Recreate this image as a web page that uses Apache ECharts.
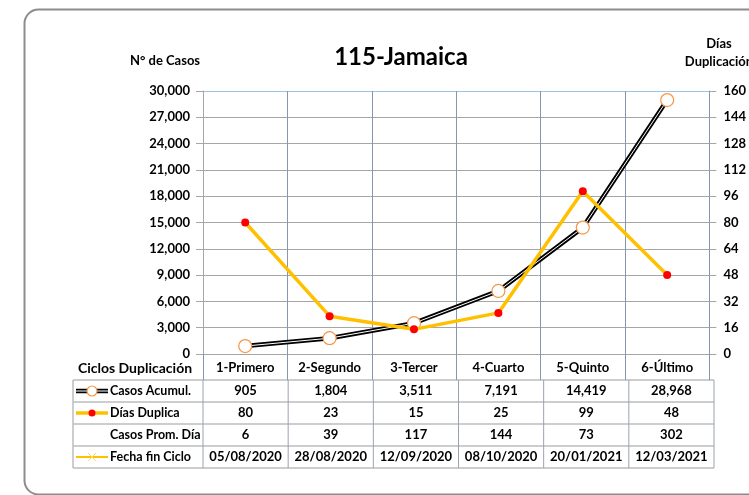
<!DOCTYPE html>
<html>
<head>
<meta charset="utf-8">
<script src="https://cdn.jsdelivr.net/npm/echarts@6/dist/echarts.min.js"></script>
<style>
  html, body { margin: 0; padding: 0; background: #fff; }
  #chart { width: 749px; height: 495px; }
</style>
</head>
<body>
<div id="chart"></div>
<script>
// datos
const ciclos = ['1-Primero', '2-Segundo', '3-Tercer', '4-Cuarto', '5-Quinto', '6-Último'];
const casosAcumul = [905, 1804, 3511, 7191, 14419, 28968];
const diasDuplica = [80, 23, 15, 25, 99, 48];
const casosPromDia = [6, 39, 117, 144, 73, 302];
const fechaFinCiclo = ['05/08/2020', '28/08/2020', '12/09/2020', '08/10/2020', '20/01/2021', '12/03/2021'];
const rowNames = ['Casos Acumul.', 'Días Duplica', 'Casos Prom. Día', 'Fecha fin Ciclo'];

const FONT = 'Lato, "Liberation Sans", sans-serif';
const chart = echarts.init(document.getElementById('chart'), null, { renderer: 'canvas' });

// geometria de la tabla
const gridL = 203, gridR = 714, tblL = 73;
const colW = (gridR - gridL) / ciclos.length;
const rowY = [380, 402, 424, 446, 468];

const fmt = v => (typeof v === 'number' ? v.toLocaleString('en-US') : v);
const rows = [casosAcumul, diasDuplica, casosPromDia, fechaFinCiclo];

const g = [];
// marco redondeado
g.push({ type: 'rect', left: 22, top: 7, shape: { width: 760, height: 485, r: 14 },
  style: { fill: 'none', stroke: '#8C8C8C', lineWidth: 2 }, z: -10 });
// titulo y nombres de ejes
g.push({ type: 'text', x: 401, y: 57, style: { text: '115-Jamaica', font: 'bold 24px ' + FONT, fill: '#000', align: 'center', verticalAlign: 'middle' } });
g.push({ type: 'text', x: 165, y: 61, style: { text: 'N° de Casos', font: 'bold 13px ' + FONT, fill: '#000', align: 'center', verticalAlign: 'middle' } });
g.push({ type: 'text', x: 719, y: 44, style: { text: 'Días', font: 'bold 13px ' + FONT, fill: '#000', align: 'center', verticalAlign: 'middle' } });
g.push({ type: 'text', x: 719, y: 62, style: { text: 'Duplicación', font: 'bold 13px ' + FONT, fill: '#000', align: 'center', verticalAlign: 'middle' } });
g.push({ type: 'text', x: 135, y: 368, style: { text: 'Ciclos Duplicación', font: 'bold 14px ' + FONT, fill: '#000', align: 'center', verticalAlign: 'middle' } });

// lineas de la tabla
rowY.forEach(y => {
  g.push({ type: 'line', shape: { x1: tblL, y1: y, x2: gridR, y2: y }, style: { stroke: '#BDBDBD', lineWidth: 1.5 } });
});
g.push({ type: 'line', shape: { x1: tblL, y1: rowY[0], x2: tblL, y2: rowY[4] }, style: { stroke: '#BDBDBD', lineWidth: 1.5 } });
for (let i = 0; i <= ciclos.length; i++) {
  const x = gridL + i * colW;
  g.push({ type: 'line', shape: { x1: x, y1: rowY[0], x2: x, y2: rowY[4] }, style: { stroke: '#9AA3B0', lineWidth: 1 } });
}
// textos de la tabla
rows.forEach((vals, r) => {
  const cy = (rowY[r] + rowY[r + 1]) / 2;
  g.push({ type: 'text', x: 110, y: cy, style: { text: rowNames[r], font: 'bold 12.5px ' + FONT, fill: '#000', align: 'left', verticalAlign: 'middle' } });
  vals.forEach((v, i) => {
    g.push({ type: 'text', x: gridL + (i + 0.5) * colW, y: cy, style: { text: fmt(v), font: 'bold 13px ' + FONT, fill: '#000', align: 'center', verticalAlign: 'middle' } });
  });
});
// iconos de leyenda
let cy = (rowY[0] + rowY[1]) / 2;
g.push({ type: 'line', shape: { x1: 76, y1: cy, x2: 108, y2: cy }, style: { stroke: '#000', lineWidth: 4.5 } });
g.push({ type: 'line', shape: { x1: 76, y1: cy, x2: 108, y2: cy }, style: { stroke: '#fff', lineWidth: 1 } });
g.push({ type: 'circle', shape: { cx: 92, cy: cy, r: 5 }, style: { fill: '#fff', stroke: '#F79646', lineWidth: 1.2 } });
cy = (rowY[1] + rowY[2]) / 2;
g.push({ type: 'line', shape: { x1: 76, y1: cy, x2: 108, y2: cy }, style: { stroke: '#FFC000', lineWidth: 3.5 } });
g.push({ type: 'circle', shape: { cx: 92, cy: cy, r: 3.5 }, style: { fill: '#FF0000' } });
cy = (rowY[3] + rowY[4]) / 2;
g.push({ type: 'line', shape: { x1: 76, y1: cy, x2: 108, y2: cy }, style: { stroke: '#FFC000', lineWidth: 2 } });
g.push({ type: 'line', shape: { x1: 88, y1: cy - 4, x2: 96, y2: cy + 4 }, style: { stroke: '#FFD966', lineWidth: 1 } });
g.push({ type: 'line', shape: { x1: 88, y1: cy + 4, x2: 96, y2: cy - 4 }, style: { stroke: '#FFD966', lineWidth: 1 } });

const hGrid = Array(10).fill('#A6A6A6').concat(['#9DC3E6']);

const option = {
  animation: false,
  textStyle: { fontFamily: FONT },
  grid: { left: gridL, right: 749 - gridR, top: 91, bottom: 495 - 354 },
  xAxis: {
    type: 'category',
    data: ciclos,
    boundaryGap: true,
    axisLine: { show: true, lineStyle: { color: '#A6A6A6', width: 1 } },
    axisTick: { show: true, length: 26, lineStyle: { color: '#8497B0' } },
    axisLabel: { margin: 7, fontSize: 13, fontWeight: 'bold', color: '#000', fontFamily: FONT },
    splitLine: { show: true, lineStyle: { color: '#8497B0', width: 1 } }
  },
  yAxis: [
    {
      type: 'value', min: 0, max: 30000, interval: 3000, position: 'left',
      axisLine: { show: true, lineStyle: { color: '#A6A6A6' } },
      axisTick: { show: true, length: 7, lineStyle: { color: '#A6A6A6' } },
      axisLabel: { margin: 13, fontSize: 13, fontWeight: 'bold', color: '#000', fontFamily: FONT,
        formatter: v => v.toLocaleString('en-US') },
      splitLine: { show: true, lineStyle: { color: hGrid, width: 1 } }
    },
    {
      type: 'value', min: 0, max: 160, interval: 16, position: 'right',
      axisLine: { show: true, lineStyle: { color: '#8497B0' } },
      axisTick: { show: true, length: 7, lineStyle: { color: '#A6A6A6' } },
      axisLabel: { margin: 14, fontSize: 13, fontWeight: 'bold', color: '#000', fontFamily: FONT },
      splitLine: { show: false }
    }
  ],
  series: [
    {
      name: 'Casos Acumul. base', type: 'line', yAxisIndex: 0, data: casosAcumul,
      symbol: 'none', lineStyle: { color: '#000', width: 4.5 }, z: 2, silent: true
    },
    {
      name: 'Casos Acumul.', type: 'line', yAxisIndex: 0, data: casosAcumul,
      symbol: 'circle', symbolSize: 13,
      itemStyle: { color: '#fff', borderColor: '#F79646', borderWidth: 1.2 },
      lineStyle: { color: '#fff', width: 1 }, z: 3
    },
    {
      name: 'Días Duplica', type: 'line', yAxisIndex: 1, data: diasDuplica,
      symbol: 'circle', symbolSize: 8,
      itemStyle: { color: '#FF0000', borderWidth: 0 },
      lineStyle: { color: '#FFC000', width: 3.5 }, z: 4
    }
  ],
  graphic: g
};

chart.setOption(option);
</script>
</body>
</html>
